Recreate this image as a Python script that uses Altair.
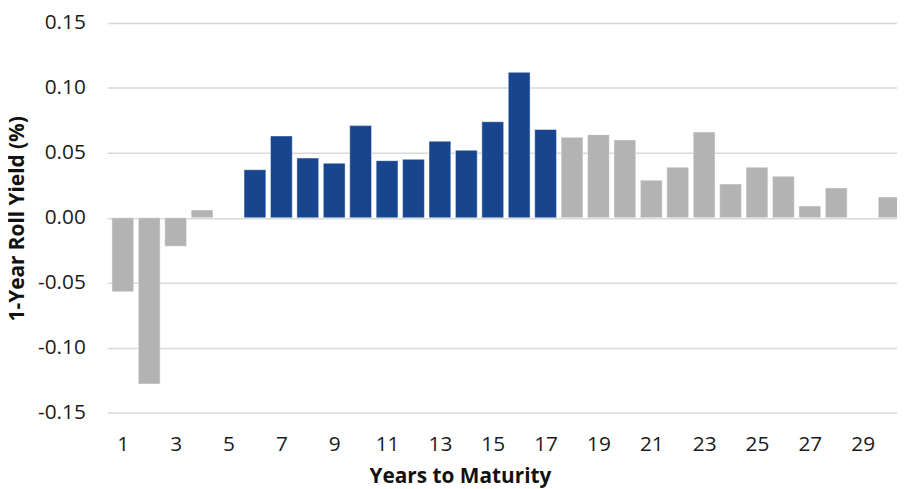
import altair as alt
import pandas as pd

years = [1, 2, 3, 4, 6, 7, 8, 9, 10, 11, 12, 13, 14, 15, 16, 17,
         18, 19, 20, 21, 22, 23, 24, 25, 26, 27, 28, 30]
roll_yield = [-0.057, -0.128, -0.022, 0.006, 0.037, 0.063, 0.046, 0.042, 0.071, 0.044,
              0.045, 0.059, 0.052, 0.074, 0.112, 0.068,
              0.062, 0.064, 0.060, 0.029, 0.039, 0.066, 0.026, 0.039, 0.032, 0.009, 0.023, 0.016]
group = ["other" if (y < 6 or y > 17) else "highlight" for y in years]

x_ticks = list(range(1, 30, 2))
y_ticks = [-0.15, -0.10, -0.05, 0.0, 0.05, 0.10, 0.15]

df = pd.DataFrame({"year": years, "value": roll_yield, "group": group})

FONT = "Open Sans"

chart = alt.Chart(df).mark_bar(size=22, clip=True, stroke="white", strokeOpacity=0.45, strokeWidth=1).encode(
    x=alt.X("year:Q",
            scale=alt.Scale(domain=[0.5926, 30.111], nice=False, zero=False),
            axis=alt.Axis(values=x_ticks, grid=False, ticks=False, domain=False,
                          labelFontSize=21, labelFont=FONT, labelColor="#1a1a1a",
                          labelPadding=21, labelFlush=False,
                          title="Years to Maturity", titleFontSize=21, titleFont=FONT,
                          titleFontWeight="bold", titleColor="#111111",
                          titleX=356, titleY=65, titleAlign="center", titleBaseline="middle")),
    y=alt.Y("value:Q",
            scale=alt.Scale(domain=[-0.15, 0.15], nice=False),
            axis=alt.Axis(values=y_ticks, grid=True, gridColor="#D9D9D9", gridWidth=1.5,
                          ticks=False, domain=False,
                          labelExpr="datum.value < -0.0001 ? '-' + format(-datum.value, '.2f') : format(abs(datum.value), '.2f')",
                          labelFontSize=21, labelFont=FONT, labelColor="#1a1a1a", labelPadding=22,
                          title="1-Year Roll Yield (%)", titleFontSize=21, titleFont=FONT,
                          titleFontWeight="bold", titleColor="#111111",
                          titleX=-90, titleY=197, titleAlign="center", titleBaseline="middle", titleAngle=270)),
    color=alt.Color("group:N",
                    scale=alt.Scale(domain=["highlight", "other"], range=["#17468F", "#B3B3B3"]),
                    legend=None),
).properties(
    width=797, height=393,
    autosize=alt.AutoSizeParams(type="none"),
    padding={"left": 100, "top": 13, "right": 0, "bottom": 75},
).configure_view(stroke=None)

chart.save("out.html", embed_options={"renderer": "svg", "actions": False})
